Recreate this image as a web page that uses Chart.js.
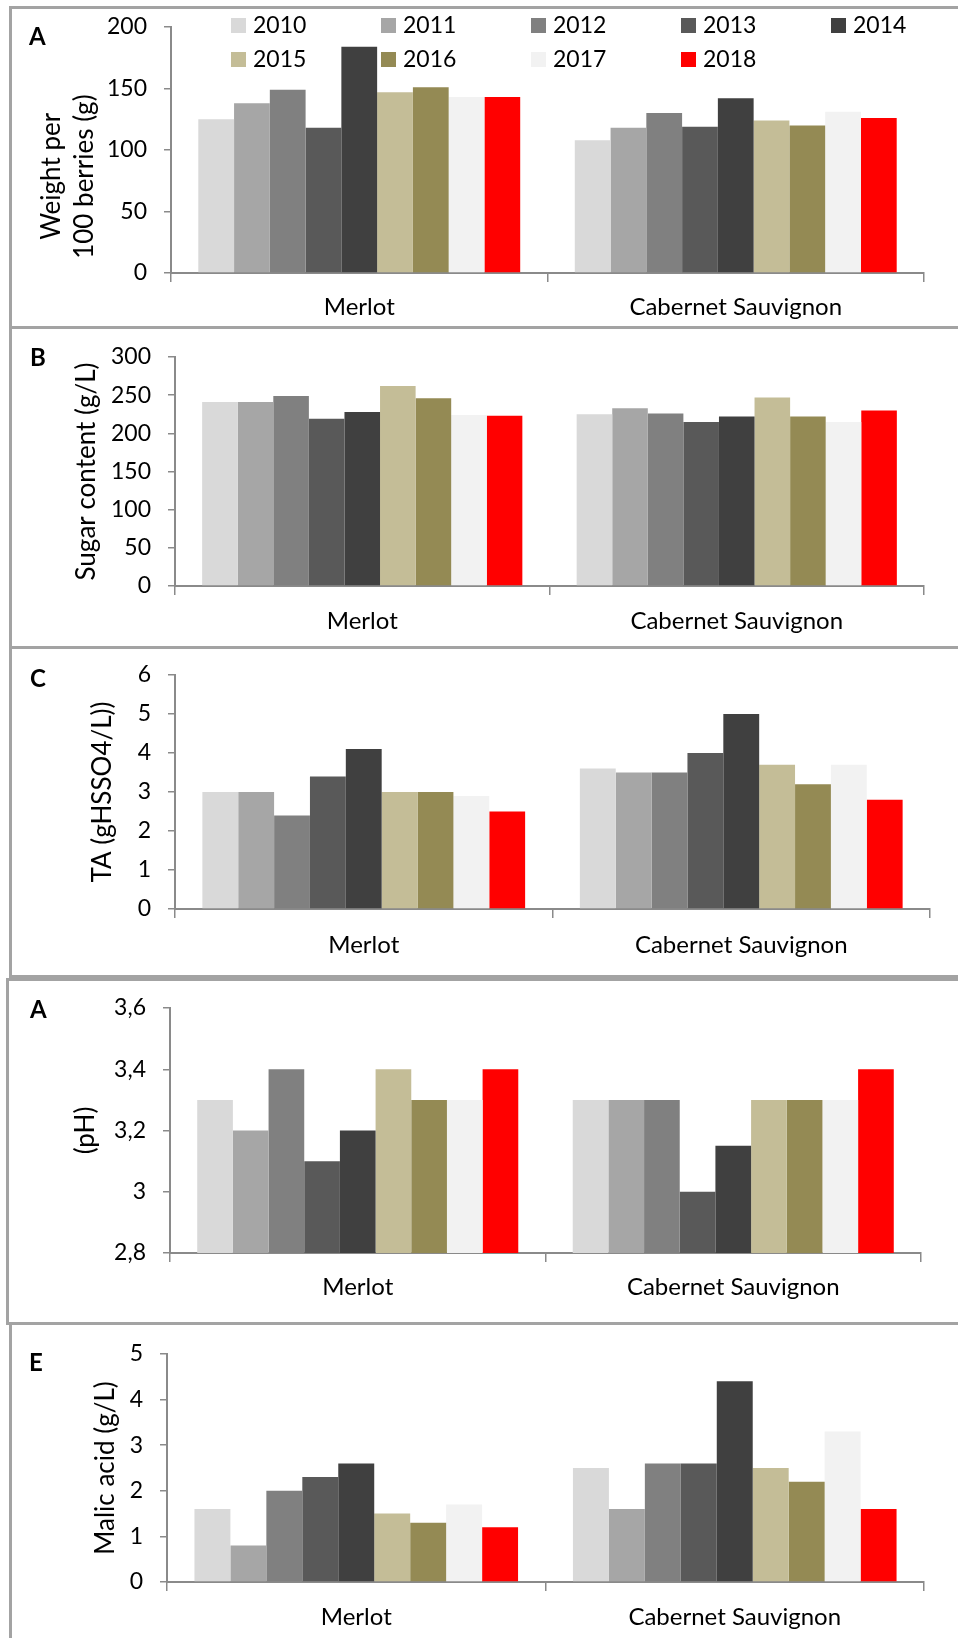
<!DOCTYPE html>
<html>
<head>
<meta charset="utf-8">
<script src="https://cdn.jsdelivr.net/npm/chart.js@4.4.1/dist/chart.umd.min.js"></script>
<style>
  html, body { margin: 0; padding: 0; background: #fff; }
  body { width: 958px; height: 1638px; position: relative; overflow: hidden; font-family: Lato, sans-serif; }
  .frame { position: absolute; border: 3px solid #a3a3a3; border-right: none; box-sizing: border-box; width: 980px; }
  canvas { position: absolute; left: 0; }
  .tag { position: absolute; font: bold 24px Lato, sans-serif; line-height: 24px; color: #000; }
</style>
</head>
<body>
<div class="frame" style="left:9px;top:6px;height:323px"></div>
<div class="frame" style="left:9px;top:326px;height:323px"></div>
<div class="frame" style="left:9px;top:646px;height:332px"></div>
<div class="frame" style="left:6px;top:978px;height:347px"></div>
<div class="frame" style="left:9px;top:1322px;height:400px"></div>

<canvas id="chartWeight" width="958" height="320" style="top:7px"></canvas>
<canvas id="chartSugar" width="958" height="320" style="top:328px"></canvas>
<canvas id="chartTA" width="958" height="330" style="top:648px"></canvas>
<canvas id="chartPH" width="958" height="344" style="top:979px"></canvas>
<canvas id="chartMalic" width="958" height="315" style="top:1323px"></canvas>

<div class="tag" style="left:29px;top:24px">A</div>
<div class="tag" style="left:30px;top:345px">B</div>
<div class="tag" style="left:30px;top:666px">C</div>
<div class="tag" style="left:30px;top:997px">A</div>
<div class="tag" style="left:29px;top:1350px">E</div>

<script>
// Varieties on the x axis and vintages as series
const categories = ['Merlot', 'Cabernet Sauvignon'];
const years = ['2010', '2011', '2012', '2013', '2014', '2015', '2016', '2017', '2018'];

// Weight per 100 berries (g)
const weightMerlot   = [125, 138, 149, 118, 184, 147, 151, 143, 143];
const weightCabernet = [108, 118, 130, 119, 142, 124, 120, 131, 126];
const weightTicks    = ['0', '50', '100', '150', '200'];

// Sugar content (g/L)
const sugarMerlot   = [241, 241, 249, 219, 228, 262, 246, 224, 223];
const sugarCabernet = [225, 233, 226, 215, 222, 247, 222, 215, 230];
const sugarTicks    = ['0', '50', '100', '150', '200', '250', '300'];

// Titratable acidity (g H2SO4/L)
const taMerlot   = [3.0, 3.0, 2.4, 3.4, 4.1, 3.0, 3.0, 2.9, 2.5];
const taCabernet = [3.6, 3.5, 3.5, 4.0, 5.0, 3.7, 3.2, 3.7, 2.8];
const taTicks    = ['0', '1', '2', '3', '4', '5', '6'];

// pH
const phMerlot   = [3.3, 3.2, 3.4, 3.1, 3.2, 3.4, 3.3, 3.3, 3.4];
const phCabernet = [3.3, 3.3, 3.3, 3.0, 3.15, 3.3, 3.3, 3.3, 3.4];
const phTicks    = ['2,8', '3', '3,2', '3,4', '3,6'];

// Malic acid (g/L)
const malicMerlot   = [1.6, 0.8, 2.0, 2.3, 2.6, 1.5, 1.3, 1.7, 1.2];
const malicCabernet = [2.5, 1.6, 2.6, 2.6, 4.4, 2.5, 2.2, 3.3, 1.6];
const malicTicks    = ['0', '1', '2', '3', '4', '5'];

// One fill per vintage
const yearColors = ['#d9d9d9', '#a6a6a6', '#808080', '#595959', '#404040',
                    '#c4bd97', '#948a54', '#f2f2f2', '#ff0000'];

Chart.defaults.font.family = 'Lato, sans-serif';
Chart.defaults.color = '#000';

const AXIS_GREY = '#8a8a8a';
const NBSP = '\u00a0';

// Two-row legend laid over the top of the first panel
const yearLegend = {
  id: 'yearLegend',
  afterDatasetsDraw(chart, args, opts) {
    if (!opts.show) return;
    const ctx = chart.ctx;
    ctx.save();
    ctx.font = '23px Lato, sans-serif';
    ctx.textBaseline = 'alphabetic';
    ctx.textAlign = 'left';
    chart.data.datasets.forEach((ds, i) => {
      const col = i % opts.perRow;
      const row = Math.floor(i / opts.perRow);
      const x = opts.x0 + col * opts.dx;
      const y = opts.y0 + row * opts.dy;
      ctx.fillStyle = ds.backgroundColor;
      ctx.fillRect(x, y, opts.box, opts.box);
      ctx.fillStyle = '#000';
      ctx.fillText(ds.label, x + opts.box + 7, y + opts.box);
    });
    ctx.restore();
  }
};

function drawPanel(p) {
  const datasets = years.map((yr, i) => ({
    label: yr,
    data: [p.merlot[i], p.cabernet[i]],
    backgroundColor: yearColors[i],
    borderWidth: 0,
    barPercentage: 1.0,
    categoryPercentage: 0.855
  }));

  return new Chart(document.getElementById(p.id), {
    type: 'bar',
    data: { labels: categories, datasets },
    plugins: [yearLegend],
    options: {
      responsive: false,
      animation: false,
      devicePixelRatio: 1,
      layout: { padding: { left: 0, top: p.top, right: p.right, bottom: 0 } },
      plugins: {
        legend: { display: false },
        tooltip: { enabled: false },
        yearLegend: { show: !!p.legend, perRow: 5, x0: 231, dx: 150, y0: 11, dy: 34, box: 15 }
      },
      scales: {
        x: {
          grid: { offset: true, drawOnChartArea: false, drawTicks: true, tickLength: 9, color: AXIS_GREY, lineWidth: 1.5 },
          border: { display: true, color: AXIS_GREY, width: 2 },
          ticks: { font: { size: 24 }, padding: p.xPad, color: '#000' },
          afterFit(scale) { scale.height = p.xHeight; }
        },
        y: {
          min: p.min, max: p.max,
          grid: { drawOnChartArea: false, drawTicks: true, tickLength: 7, color: AXIS_GREY, lineWidth: 1.5 },
          border: { display: true, color: AXIS_GREY, width: 2 },
          ticks: {
            stepSize: p.step,
            font: { size: 23 },
            padding: 17,
            color: '#000',
            callback: (v, i) => p.ticks[i]
          },
          title: {
            display: true,
            text: p.title,
            font: { size: 26, lineHeight: 1.27 },
            color: '#000',
            padding: { top: p.titlePad, bottom: 0 }
          },
          afterFit(scale) {
            scale.width = p.left;
            scale.paddingTop = 0;
            scale.paddingBottom = 0;
          }
        }
      }
    }
  });
}

const trail = NBSP.repeat(8);

drawPanel({ id: 'chartWeight', merlot: weightMerlot, cabernet: weightCabernet, ticks: weightTicks,
  min: 0, max: 200, step: 50, title: ['Weight per' + trail, '100 berries (g)' + trail],
  top: 20, right: 34, left: 171, xHeight: 54, xPad: 11, titlePad: 35, legend: true });

drawPanel({ id: 'chartSugar', merlot: sugarMerlot, cabernet: sugarCabernet, ticks: sugarTicks,
  min: 0, max: 300, step: 50, title: 'Sugar content (g/L)',
  top: 29, right: 34, left: 175, xHeight: 62, xPad: 12, titlePad: 70 });

drawPanel({ id: 'chartTA', merlot: taMerlot, cabernet: taCabernet, ticks: taTicks,
  min: 0, max: 6, step: 1, title: 'TA (gHSSO4/L))',
  top: 27, right: 28, left: 175, xHeight: 69, xPad: 13, titlePad: 86 });

drawPanel({ id: 'chartPH', merlot: phMerlot, cabernet: phCabernet, ticks: phTicks,
  min: 2.8, max: 3.6, step: 0.2, title: '(pH)',
  top: 29, right: 37, left: 170, xHeight: 70, xPad: 11, titlePad: 69 });

drawPanel({ id: 'chartMalic', merlot: malicMerlot, cabernet: malicCabernet, ticks: malicTicks,
  min: 0, max: 5, step: 1, title: 'Malic acid (g/L)',
  top: 31, right: 34, left: 167, xHeight: 56, xPad: 12, titlePad: 89 });
</script>
</body>
</html>
